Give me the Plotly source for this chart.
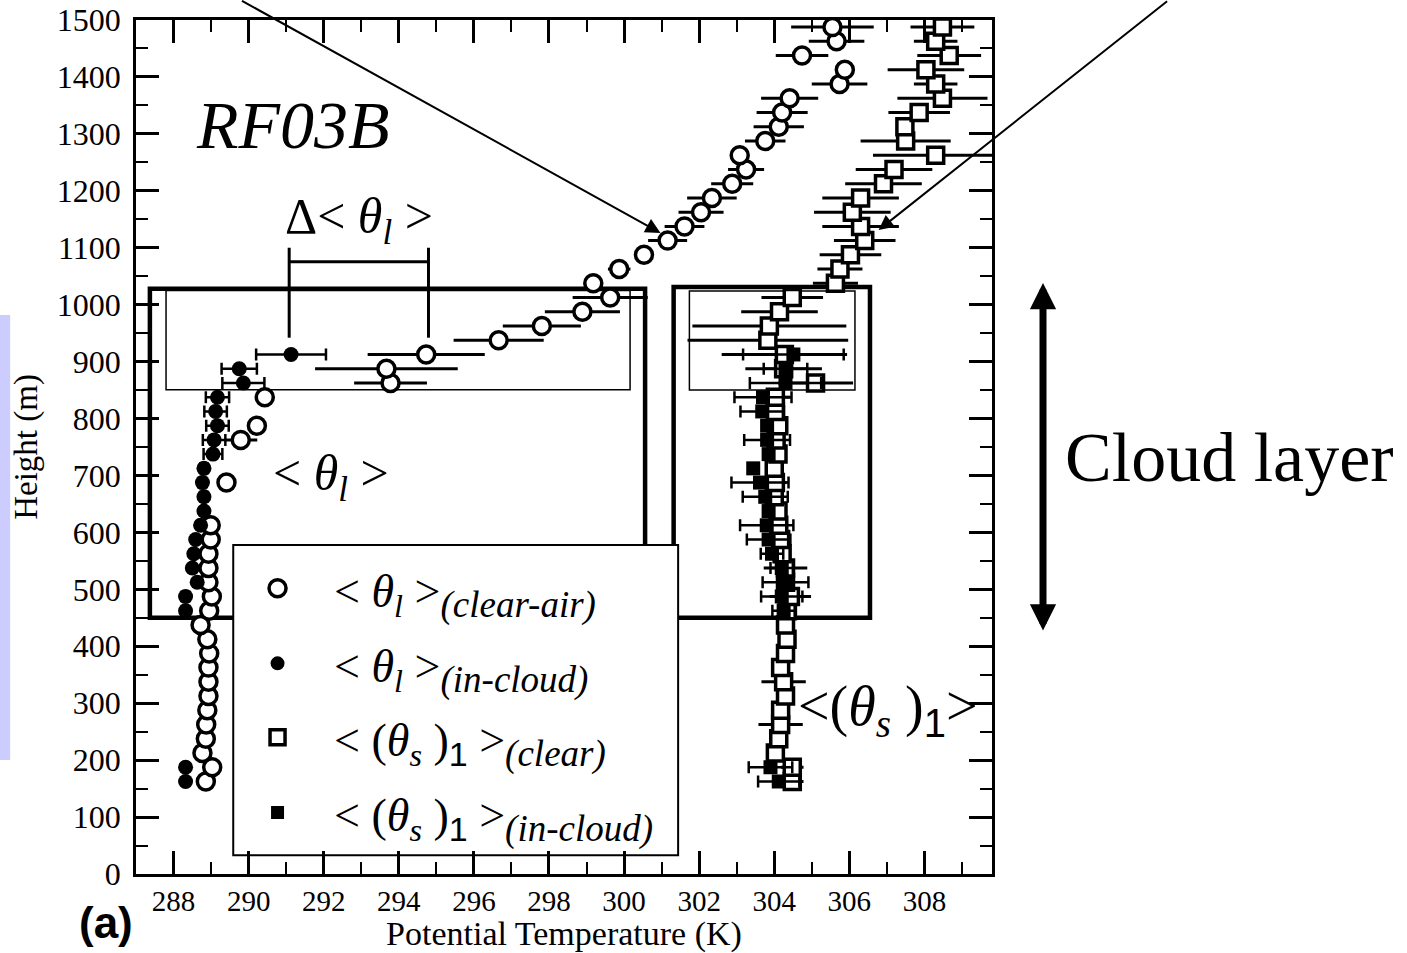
import plotly.graph_objects as go

# ---------------- data ----------------
heights = [162.5, 187.5, 212.5, 237.5, 262.5, 287.5, 312.5, 337.5, 362.5, 387.5,
           412.5, 437.5, 462.5, 487.5, 512.5, 537.5, 562.5, 587.5, 612.5, 637.5,
           662.5, 687.5, 712.5, 737.5, 762.5, 787.5, 812.5, 837.5, 862.5, 887.5,
           912.5, 937.5, 962.5, 987.5, 1012.5, 1037.5, 1062.5, 1087.5, 1112.5, 1137.5,
           1162.5, 1187.5, 1212.5, 1237.5, 1262.5, 1287.5, 1312.5, 1337.5, 1362.5, 1387.5,
           1412.5, 1437.5, 1462.5, 1487.5]

theta_l_clear = [288.86, 289.03, 288.77, 288.86, 288.87, 288.90, 288.93, 288.93, 288.93, 288.95,
                 288.90, 288.72, 288.95, 289.02, 288.93, 288.93, 288.93, 288.99, 288.99, None,
                 None, 289.41, None, None, 289.79, 290.22, None, 290.43, 293.78, 293.67,
                 294.73, 296.66, 297.81, 298.89, 299.63, 299.18, 299.87, 300.53, 301.16, 301.61,
                 302.05, 302.34, 302.88, 303.25, 303.08, 303.76, 304.12, 304.21, 304.41, 305.74,
                 305.88, 304.74, 305.66, 305.55]
theta_l_clear_err = [0, 0, 0, 0, 0, 0, 0, 0, 0, 0,
                     0, 0, 0, 0, 0, 0, 0, 0, 0, 0,
                     0, 0, 0, 0, 0.44, 0, 0, 0, 0.97, 1.9,
                     1.56, 1.2, 1.04, 1.0, 1.0, 0, 0.3, 0, 0.52, 0.53,
                     0.60, 0.66, 0.56, 0.48, 0.2, 0.54, 0.67, 0.68, 0.76, 0.74,
                     0, 0.70, 0.74, 1.1]

theta_l_cloud = [288.32, 288.32, None, None, None, None, None, None, None, None,
                 None, None, 288.32, 288.32, 288.63, 288.50, 288.54, 288.59, 288.72, 288.81,
                 288.81, 288.77, 288.81, 289.05, 289.08, 289.17, 289.12, 289.17, 289.86, 289.75,
                 291.13, None, None, None, None, None, None, None, None, None,
                 None, None, None, None, None, None, None, None, None, None,
                 None, None, None, None]
theta_l_cloud_err = [0, 0, 0, 0, 0, 0, 0, 0, 0, 0,
                     0, 0, 0.1, 0.1, 0, 0, 0, 0, 0, 0,
                     0.1, 0.1, 0.1, 0.25, 0.3, 0.3, 0.3, 0.31, 0.56, 0.47,
                     0.93, 0, 0, 0, 0, 0, 0, 0, 0, 0,
                     0, 0, 0, 0, 0, 0, 0, 0, 0, 0,
                     0, 0, 0, 0]

theta_s_clear = [304.48, 304.48, 304.03, 304.12, 304.17, 304.17, 304.30, 304.25, 304.17, 304.30,
                 304.34, 304.30, 304.35, 304.43, 304.30, 304.30, 304.21, 304.17, 304.12, 304.10,
                 304.00, 304.03, 304.00, 304.10, 304.05, 304.12, 304.03, 304.03, 305.10, 304.25,
                 304.27, 303.83, 303.87, 304.14, 304.48, 305.63, 305.75, 306.03, 306.41, 306.30,
                 306.08, 306.30, 306.91, 307.19, 308.30, 307.50, 307.48, 307.86, 308.48, 308.30,
                 308.04, 308.66, 308.30, 308.48]
theta_s_clear_err = [0.3, 0.3, 0, 0, 0.59, 0, 0, 0.59, 0, 0,
                     0, 0, 0, 0.55, 0, 0.58, 0, 0, 0, 0,
                     0, 0.3, 0, 0, 0, 0, 0, 0.4, 1.0, 1.02,
                     1.67, 2.14, 2.05, 1.02, 0.82, 0.6, 0.6, 0.82, 0.82, 1.02,
                     1.02, 1.02, 1.02, 1.02, 1.67, 1.2, 0.2, 0.82, 1.2, 0.58,
                     1.02, 0.85, 0.58, 0.85]

theta_s_cloud = [304.12, 303.90, None, None, None, None, None, None, None, None,
                 None, None, 304.25, 304.20, 304.30, 304.20, 303.94, 303.85, 303.80, 303.85,
                 303.76, 303.62, 303.44, 303.85, 303.81, 303.81, 303.68, 303.70, 304.30, 304.30,
                 304.51, None, None, None, None, None, None, None, None, None,
                 None, None, None, None, None, None, None, None, None, None,
                 None, None, None, None]
theta_s_cloud_err = [0.55, 0.58, 0, 0, 0, 0, 0, 0, 0, 0,
                     0, 0, 0.3, 0.55, 0.61, 0.3, 0.3, 0.58, 0.71, 0,
                     0.6, 0.76, 0, 0, 0.61, 0, 0.58, 0.76, 0.95, 0.58,
                     1.34, 0, 0, 0, 0, 0, 0, 0, 0, 0,
                     0, 0, 0, 0, 0, 0, 0, 0, 0, 0,
                     0, 0, 0, 0]

x_ticks = [288, 290, 292, 294, 296, 298, 300, 302, 304, 306, 308]
y_ticks = [0, 100, 200, 300, 400, 500, 600, 700, 800, 900, 1000, 1100, 1200, 1300, 1400, 1500]

def one(px):
    return "<span style=\"font-family:Liberation Sans;font-size:" + str(px) + "px\">1</span>"

def subtxt(s):
    return "<sub><span style=\"font-size:37px\"><i>" + s + "</i></span></sub>"

legend_labels = [
    "&lt; <i>θ</i><sub><i>l</i></sub> &gt;" + subtxt("(clear-air)"),
    "&lt; <i>θ</i><sub><i>l</i></sub> &gt;" + subtxt("(in-cloud)"),
    "&lt; (<i>θ</i><sub><i>s</i></sub> )<sub>" + one(34) + "</sub> &gt;" + subtxt("(clear)"),
    "&lt; (<i>θ</i><sub><i>s</i></sub> )<sub>" + one(34) + "</sub> &gt;" + subtxt("(in-cloud)"),
]

SERIF = "Liberation Serif, Times New Roman, serif"
SANS = "Liberation Sans, Arial, sans-serif"

fig = go.Figure()

fig.add_trace(go.Scatter(
    x=theta_l_clear, y=heights, mode="markers", name="theta_l clear-air", showlegend=False,
    marker=dict(symbol="circle", size=17, color="white", line=dict(color="black", width=3.5)),
    error_x=dict(type="data", array=theta_l_clear_err, color="black", thickness=3, width=0),
))
fig.add_trace(go.Scatter(
    x=theta_l_cloud, y=heights, mode="markers", name="theta_l in-cloud", showlegend=False,
    marker=dict(symbol="circle", size=15, color="black", line=dict(color="black", width=0)),
    error_x=dict(type="data", array=theta_l_cloud_err, color="black", thickness=2.5, width=6),
))
fig.add_trace(go.Scatter(
    x=theta_s_clear, y=heights, mode="markers", name="theta_s clear", showlegend=False,
    marker=dict(symbol="square", size=16, color="white", line=dict(color="black", width=3.5)),
    error_x=dict(type="data", array=theta_s_clear_err, color="black", thickness=3, width=0),
))
fig.add_trace(go.Scatter(
    x=theta_s_cloud, y=heights, mode="markers", name="theta_s in-cloud", showlegend=False,
    marker=dict(symbol="square", size=14, color="black", line=dict(color="black", width=0)),
    error_x=dict(type="data", array=theta_s_cloud_err, color="black", thickness=2.5, width=6),
))

shapes = []
# cloud-layer boxes
for (x0, x1, y0, y1, w) in [(287.37, 300.56, 450, 1028, 4.5), (287.80, 300.16, 850.5, 1025, 1.5),
                            (301.32, 306.55, 450, 1031, 4.5), (301.74, 306.15, 850, 1024, 1.5)]:
    shapes.append(dict(type="rect", xref="x", yref="y", x0=x0, x1=x1, y0=y0, y1=y1,
                       line=dict(color="black", width=w), layer="below"))
# delta bracket
for (x0, x1, y0, y1) in [(291.08, 291.08, 942, 1100), (294.79, 294.79, 942, 1100),
                         (291.08, 294.79, 1075.6, 1075.6)]:
    shapes.append(dict(type="line", xref="x", yref="y", x0=x0, x1=x1, y0=y0, y1=y1,
                       line=dict(color="black", width=3), layer="below"))
# legend box
shapes.append(dict(type="rect", xref="x", yref="y", x0=289.59, x1=301.44, y0=33, y1=578,
                   fillcolor="white", line=dict(color="black", width=2), layer="below"))
# legend keys
leg_x = 290.77
leg_y = [502, 370, 240, 108]
key_styles = [
    dict(type="circle", r=8.5, fill="white", lw=3.5),
    dict(type="circle", r=7, fill="black", lw=0),
    dict(type="rect", r=7.5, fill="white", lw=3.5),
    dict(type="rect", r=6.5, fill="black", lw=0),
]
for yy, ks in zip(leg_y, key_styles):
    shapes.append(dict(type=ks["type"], xref="x", yref="y", xsizemode="pixel", ysizemode="pixel",
                       xanchor=leg_x, yanchor=yy, x0=-ks["r"], x1=ks["r"], y0=-ks["r"], y1=ks["r"],
                       fillcolor=ks["fill"], line=dict(color="black", width=ks["lw"]), layer="below"))
# light side strip
shapes.append(dict(type="rect", xref="paper", yref="paper", x0=-0.159, x1=-0.147,
                   y0=(874 - 760) / 854, y1=(874 - 315) / 854,
                   fillcolor="#ccccff", line=dict(width=0), layer="below"))

annotations = []
for yy, lab in zip(leg_y, legend_labels):
    annotations.append(dict(x=292.22, y=yy - 14, xref="x", yref="y", text=lab, showarrow=False,
                            xanchor="left", yanchor="middle", font=dict(family=SERIF, size=46, color="black")))

annotations += [
    dict(x=291.19, y=1316, xref="x", yref="y", text="<i>RF03B</i>", showarrow=False,
         xanchor="center", yanchor="middle", font=dict(family=SERIF, size=68, color="black")),
    dict(x=292.95, y=1149, xref="x", yref="y", text="Δ&lt; <i>θ</i><sub><i>l</i></sub> &gt;", showarrow=False,
         xanchor="center", yanchor="middle", font=dict(family=SERIF, size=50, color="black")),
    dict(x=292.2, y=698, xref="x", yref="y", text="&lt; <i>θ</i><sub><i>l</i></sub> &gt;", showarrow=False,
         xanchor="center", yanchor="middle", font=dict(family=SERIF, size=50, color="black")),
    dict(x=307.03, y=288, xref="x", yref="y",
         text="&lt;(<i>θ</i><sub><i>s</i></sub> )<sub>" + one(40) + "</sub>&gt;",
         showarrow=False, xanchor="center", yanchor="middle", font=dict(family=SERIF, size=56, color="black")),
    dict(x=(1229 - 136) / 856, y=(874 - 457) / 854, xref="paper", yref="paper", text="Cloud layer",
         showarrow=False, xanchor="center", yanchor="middle", font=dict(family=SERIF, size=70, color="black")),
    dict(x=(106 - 136) / 856, y=(874 - 922) / 854, xref="paper", yref="paper", text="<b>(a)</b>",
         showarrow=False, xanchor="center", yanchor="middle", font=dict(family=SANS, size=44, color="black")),
    # thin arrows
    dict(x=300.97, y=1126, xref="x", yref="y", ax=-420, ay=-240, axref="pixel", ayref="pixel",
         text="", showarrow=True, arrowhead=2, arrowsize=1.5, arrowwidth=2, arrowcolor="black"),
    dict(x=306.78, y=1131, xref="x", yref="y", ax=290, ay=-237, axref="pixel", ayref="pixel",
         text="", showarrow=True, arrowhead=2, arrowsize=1.5, arrowwidth=2, arrowcolor="black"),
    # cloud layer double arrow
    dict(x=(1043 - 136) / 856, y=(874 - 283) / 854, xref="paper", yref="paper", ax=0, ay=349,
         text="", showarrow=True, arrowhead=2, startarrowhead=2, arrowside="end+start",
         arrowsize=0.75, startarrowsize=0.75, arrowwidth=7, arrowcolor="black"),
]

fig.update_layout(
    width=1407, height=953,
    margin=dict(l=136, r=415, t=20, b=79, pad=0, autoexpand=False),
    paper_bgcolor="white", plot_bgcolor="white",
    shapes=shapes, annotations=annotations,
    showlegend=False,
    font=dict(family=SERIF, color="black"),
)
fig.update_xaxes(
    automargin=False,
    range=[287, 309.8], tickvals=x_ticks, ticktext=[str(v) for v in x_ticks],
    showgrid=False, zeroline=False, showline=True, linecolor="black", linewidth=2.5,
    mirror="allticks", ticks="inside", ticklen=23, tickwidth=3, tickcolor="black",
    minor=dict(ticks="inside", ticklen=12, tickwidth=2, dtick=1, tick0=287, tickcolor="black", showgrid=False),
    tickfont=dict(family=SERIF, size=29, color="black"), ticklabelstandoff=-1,
    title=dict(text="Potential Temperature (K)", font=dict(family=SERIF, size=34, color="black"), standoff=9),
)
fig.update_yaxes(
    automargin=False,
    range=[0, 1500], tickvals=y_ticks, ticktext=[str(v) for v in y_ticks],
    showgrid=False, zeroline=False, showline=True, linecolor="black", linewidth=2.5,
    mirror="allticks", ticks="inside", ticklen=23, tickwidth=3, tickcolor="black",
    minor=dict(ticks="inside", ticklen=12, tickwidth=2, dtick=50, tick0=0, tickcolor="black", showgrid=False),
    tickfont=dict(family=SERIF, size=32, color="black"), ticklabelstandoff=6,
    title=dict(text="Height (m)", font=dict(family=SERIF, size=33, color="black"), standoff=10),
)

fig.write_html("out.html", config={"displayModeBar": False},
               post_script="document.body.style.margin='0px';")
